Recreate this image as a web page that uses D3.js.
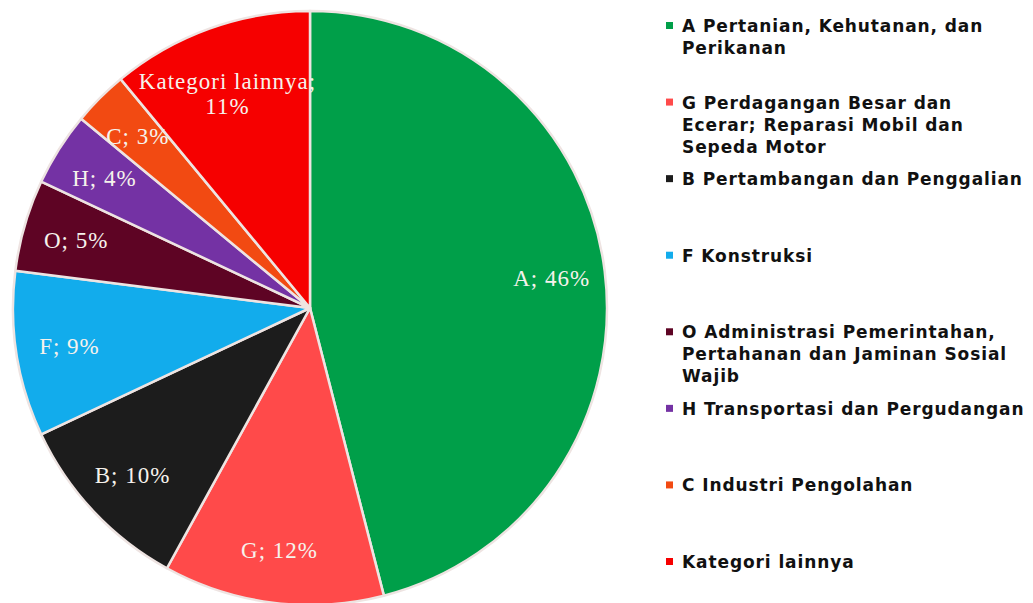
<!DOCTYPE html>
<html>
<head>
<meta charset="utf-8">
<script src="https://cdn.jsdelivr.net/npm/d3@7"></script>
<style>
  html, body { margin: 0; padding: 0; background: #fff; }
  svg { display: block; }
</style>
</head>
<body>
<svg id="chart" width="1033" height="603"></svg>
<script>
// ---- data ----
const codes = ["A", "G", "B", "F", "O", "H", "C", "Kategori lainnya"];
const values = [46, 12, 10, 9, 5, 4, 3, 11];
const legendLines = [
  ["A Pertanian, Kehutanan, dan", "Perikanan"],
  ["G Perdagangan Besar dan", "Ecerar; Reparasi Mobil dan", "Sepeda Motor"],
  ["B Pertambangan dan Penggalian"],
  ["F Konstruksi"],
  ["O Administrasi Pemerintahan,", "Pertahanan dan Jaminan Sosial", "Wajib"],
  ["H Transportasi dan Pergudangan"],
  ["C Industri Pengolahan"],
  ["Kategori lainnya"]
];
const colors = ["#009F49", "#FF4A4A", "#1C1C1C", "#12ACEC", "#5E0424", "#7432A4", "#F24A12", "#F60000"];

// ---- layout ----
const svg = d3.select("#chart");
const cx = 310, cy = 308, R = 297;

const color = d3.scaleOrdinal().domain(codes).range(colors);
const pie = d3.pie().value(d => d.value).sort(null);
const data = codes.map((c, i) => ({ code: c, value: values[i], legend: legendLines[i] }));
const arcs = pie(data);

const arc = d3.arc().innerRadius(0).outerRadius(R);
const labelArc = d3.arc().innerRadius(R * 0.82).outerRadius(R * 0.82);

const g = svg.append("g").attr("transform", `translate(${cx},${cy})`);

g.selectAll("path.slice")
  .data(arcs)
  .join("path")
  .attr("class", "slice")
  .attr("d", arc)
  .attr("fill", d => color(d.data.code))
  .attr("stroke", "#EEE4E2")
  .attr("stroke-width", 2.5)
  .attr("stroke-linejoin", "round");

const total = d3.sum(values);
const labels = g.selectAll("text.lbl")
  .data(arcs)
  .join("text")
  .attr("class", "lbl")
  .attr("transform", d => `translate(${labelArc.centroid(d)})`)
  .attr("text-anchor", "middle")
  .attr("font-family", "Liberation Serif, serif")
  .attr("font-size", 23)
  .attr("letter-spacing", 1)
  .attr("fill", "#F6F2EC");

labels.each(function(d) {
  const t = d3.select(this);
  const pct = Math.round(d.data.value / total * 100) + "%";
  if (d.data.code.length > 2) {
    t.append("tspan").attr("x", 0).attr("dy", "0.45em").text(d.data.code + ";");
    t.append("tspan").attr("x", 0).attr("dy", "1.1em").text(pct);
  } else {
    t.append("tspan").attr("x", 0).attr("dy", "0.35em").text(d.data.code + "; " + pct);
  }
});

// ---- legend ----
const ly = d3.scalePoint().domain(codes).range([26, 562]);
const legendX = 666;
const lineH = 22;
const lg = svg.append("g");
const items = lg.selectAll("g.item")
  .data(data)
  .join("g")
  .attr("class", "item")
  .attr("transform", d => `translate(${legendX},${ly(d.code)})`);

items.append("rect")
  .attr("x", 0).attr("y", -4)
  .attr("width", 7).attr("height", 7)
  .attr("fill", d => color(d.code));

items.append("text")
  .attr("font-family", "DejaVu Sans, sans-serif")
  .attr("font-weight", "bold")
  .attr("font-size", 17)
  .attr("letter-spacing", 0.9)
  .attr("fill", "#111")
  .each(function(d) {
    const t = d3.select(this);
    d.legend.forEach((line, i) => {
      t.append("tspan")
        .attr("x", 16)
        .attr("y", i * lineH)
        .attr("dy", "0.35em")
        .text(line);
    });
  });
</script>
</body>
</html>
